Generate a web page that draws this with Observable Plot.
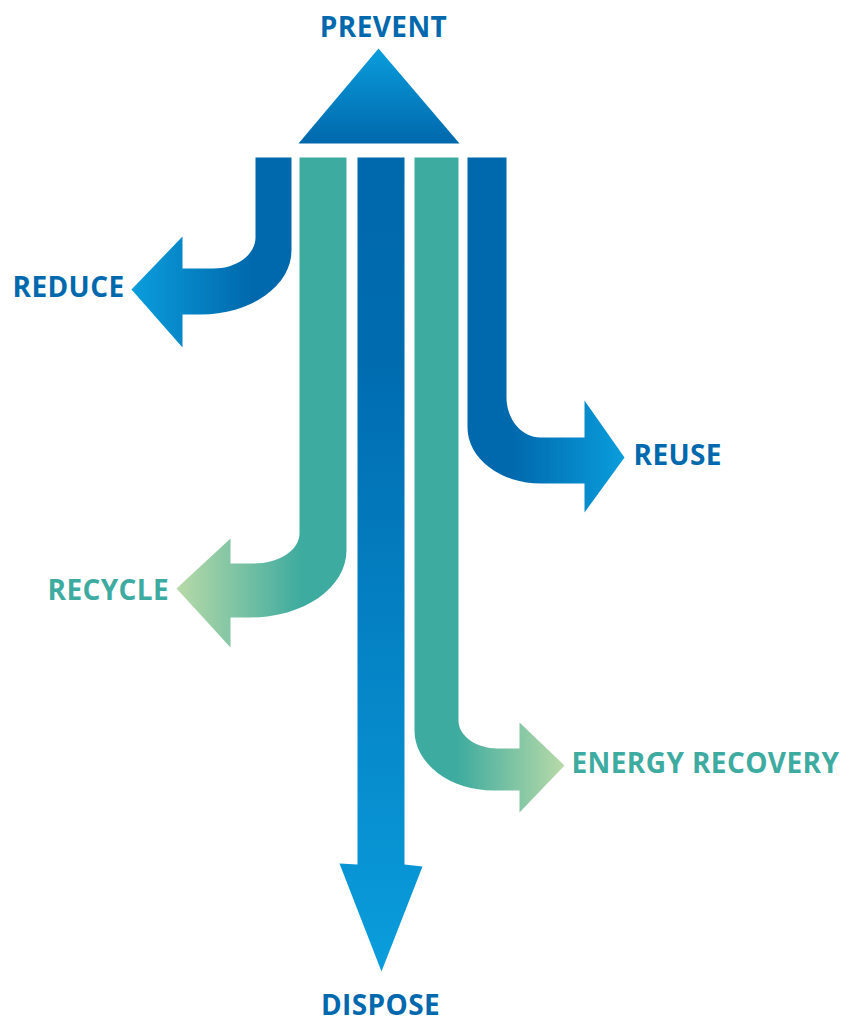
<!DOCTYPE html>
<html><head><meta charset="utf-8">
<script src="https://cdn.jsdelivr.net/npm/d3@7"></script>
<script src="https://cdn.jsdelivr.net/npm/@observablehq/plot@0.6"></script>
<style>html,body{margin:0;padding:0;background:#fff} svg{display:block}</style>
</head><body><div id="chart"></div>
<script>
// ---- data ----
const stageNames  = ["PREVENT", "REDUCE", "REUSE", "RECYCLE", "ENERGY RECOVERY", "DISPOSE"];
const labelX      = [383, 12, 633, 47, 571, 380];
const labelY      = [36, 296, 464, 599, 772, 1014];
const labelAnchor = ["middle", "start", "start", "start", "start", "middle"];
const labelColor  = ["#0069ad", "#0069ad", "#0069ad", "#3dab9f", "#3dab9f", "#0069ad"];

// bent arrows: vertical band (inner/outer edge x), horizontal band (inner/outer edge y),
// corner radii, arrow head
const bentName = ["REDUCE", "REUSE", "RECYCLE", "ENERGY RECOVERY"];
const bentDir  = [-1, 1, -1, 1];
const bentXIn  = [255, 506, 299, 458];
const bentXOut = [291, 467, 346, 414];
const bentHIn  = [268, 437, 563, 748];
const bentHOut = [314, 483, 617, 790];
const bentRi   = [[42, 31], [34, 40], [46, 30], [39, 28]];
const bentRo   = [[91, 64], [73, 56], [96, 67], [79, 60]];
const bentHead = [[182, 236, 347], [584, 400, 512], [230, 538, 647], [519, 722, 812]];
const bentTip  = [[131, 289], [624, 457], [176, 588], [564, 765]];
const bentGrad = ["g-reduce", "g-reuse", "g-recycle", "g-energy"];
const bandTop = 157;

// straight DISPOSE arrow & PREVENT triangle
const disposeShaft = [357, 404];
const disposeHead = [[339, 863], [422, 866], [381, 971]];
const disposeHeadY = 864;
const preventTri = [[378, 48], [459, 143], [298, 143]];

// gradients
const gradients = [
  {id: "g-reduce",  dir: "h", stops: [[0, "#0a9ddc"], [0.76, "#0068ac"], [1, "#0068ac"]]},
  {id: "g-reuse",   dir: "h", stops: [[0, "#0068ac"], [0.27, "#0068ac"], [1, "#0a9ddc"]]},
  {id: "g-recycle", dir: "h", stops: [[0, "#b8daa8"], [0.74, "#3dab9f"], [1, "#3dab9f"]]},
  {id: "g-energy",  dir: "h", stops: [[0, "#3dab9f"], [0.28, "#3dab9f"], [1, "#b8daa8"]]},
  {id: "g-dispose", dir: "v", stops: [[0, "#0068ac"], [0.25, "#006cb0"], [1, "#0a9ddc"]]},
  {id: "g-prevent", dir: "v", stops: [[0, "#0a9ddc"], [1, "#0068ac"]]}
];

// ---- build outlines ----
function arc(cx, cy, rx, ry, s, t0, t1, n = 16) {
  const pts = [];
  for (let i = 0; i <= n; i++) {
    const t = t0 + (t1 - t0) * i / n;
    pts.push([cx - s * rx * Math.cos(t), cy + ry * Math.sin(t)]);
  }
  return pts;
}
const shapes = [];
bentName.forEach((name, i) => {
  const s = bentDir[i], xi = bentXIn[i], xo = bentXOut[i], hi = bentHIn[i], ho = bentHOut[i];
  const [rix, riy] = bentRi[i], [rox, roy] = bentRo[i];
  const [hx, ht, hb] = bentHead[i], [tx, ty] = bentTip[i];
  const pts = [
    [xi, bandTop], [xo, bandTop], [xo, ho - roy],
    ...arc(xo + s * rox, ho - roy, rox, roy, s, 0, Math.PI / 2),
    [hx, ho], [hx, hb], [tx, ty], [hx, ht], [hx, hi],
    ...arc(xi + s * rix, hi - riy, rix, riy, s, Math.PI / 2, 0),
    [xi, bandTop]
  ];
  shapes.push({name, grad: bentGrad[i], pts});
});
shapes.push({name: "DISPOSE", grad: "g-dispose", pts: [
  [disposeShaft[0], bandTop], [disposeShaft[1], bandTop], [disposeShaft[1], disposeHeadY],
  disposeHead[1], disposeHead[2], disposeHead[0], [disposeShaft[0], disposeHeadY]
]});
shapes.push({name: "PREVENT", grad: "g-prevent", pts: preventTri});

const labels = stageNames.map((name, i) => ({name, x: labelX[i], y: labelY[i], anchor: labelAnchor[i], color: labelColor[i]}));

function defsMark() {
  const defs = d3.create("svg:defs");
  for (const g of gradients) {
    const lg = defs.append("linearGradient").attr("id", g.id)
      .attr("x1", 0).attr("y1", 0)
      .attr("x2", g.dir === "h" ? 1 : 0).attr("y2", g.dir === "h" ? 0 : 1);
    for (const [o, c] of g.stops) lg.append("stop").attr("offset", o).attr("stop-color", c);
  }
  return defs.node();
}

const marks = [defsMark];
for (const sh of shapes) {
  marks.push(Plot.line(sh.pts, {x: d => d[0], y: d => d[1], fill: `url(#${sh.grad})`, stroke: "none", curve: "linear"}));
}
for (const anchor of ["middle", "start"]) {
  marks.push(Plot.text(labels.filter(d => d.anchor === anchor), {
    x: "x", y: "y", text: "name", fill: "color", textAnchor: anchor, lineAnchor: "bottom",
    fontSize: 28, fontWeight: 700, fontFamily: "Open Sans"
  }));
}

const chart = Plot.plot({
  width: 845, height: 1019, margin: 0,
  style: {background: "#fff", overflow: "visible", letterSpacing: "0.4px"},
  x: {type: "linear", domain: [0, 845], range: [0, 845], axis: null},
  y: {type: "linear", domain: [0, 1019], range: [0, 1019], axis: null},
  color: {type: "identity"},
  marks
});
document.getElementById("chart").appendChild(chart);
</script>
</body></html>
